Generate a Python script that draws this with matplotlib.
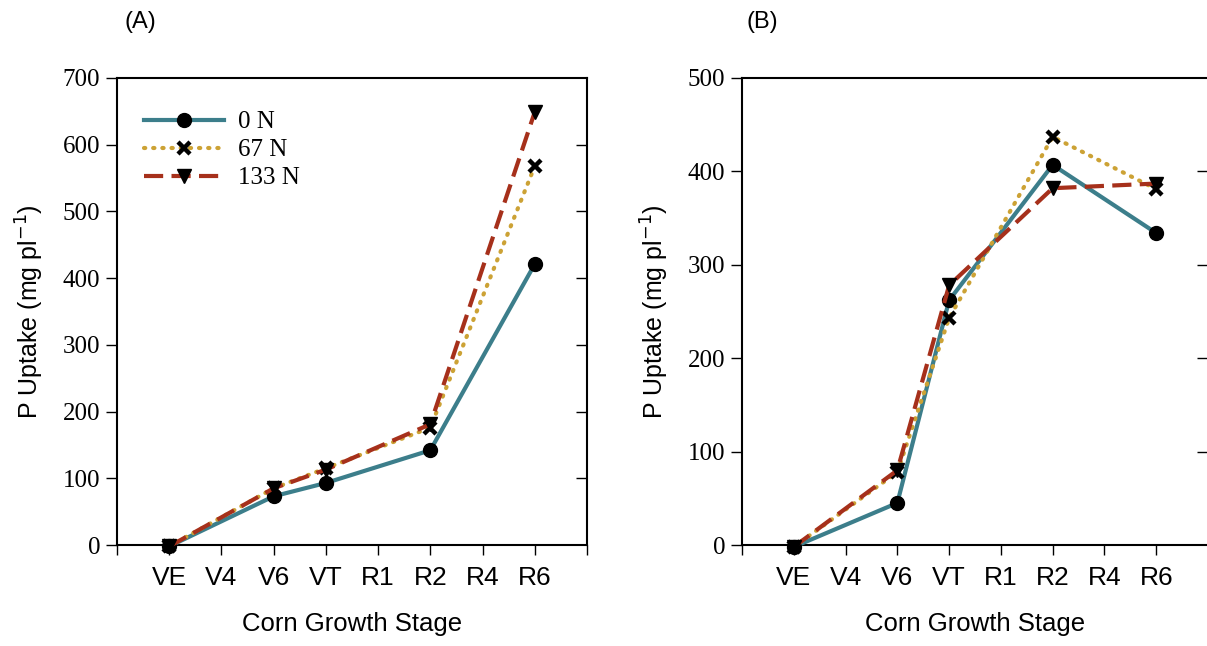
import numpy as np
import matplotlib.pyplot as plt

# growth stages on the x axis
stages = ["VE", "V4", "V6", "VT", "R1", "R2", "R4", "R6"]
tick_pos = [-1, 0, 1, 2, 3, 4, 5, 6, 7, 8]
tick_lab = [""] + stages + [""]

# stages that were sampled
sampled = ["VE", "V6", "VT", "R2", "R6"]

# (A) P uptake, mg per plant
a_0n = [-2, 73, 93, 142, 421]
a_67n = [-2, 85, 115, 176, 568]
a_133n = [-2, 85, 113, 181, 649]

# (B) P uptake, mg per plant
b_0n = [-2, 45, 262, 407, 334]
b_67n = [-2, 78, 243, 437, 381]
b_133n = [-2, 80, 278, 382, 387]

series_names = ["0 N", "67 N", "133 N"]
colors = ["#3c7e8b", "#cca235", "#a6301b"]

x = [stages.index(s) for s in sampled]

fig = plt.figure(figsize=(12.07, 6.46), dpi=100)
axA = fig.add_axes([117 / 1207, 101 / 646, 470 / 1207, 467 / 646])
axB = fig.add_axes([742 / 1207, 101 / 646, 466 / 1207, 467 / 646])


def draw(ax, ys, ymax):
    y0, y1, y2 = ys
    ax.plot(x, y0, color=colors[0], lw=3.0, marker="o", ms=10,
            mfc="black", mec="black", label=series_names[0], clip_on=False, zorder=3)
    ax.plot(x, y1, color=colors[1], lw=3.0, linestyle=(0, (0.3, 1.9)),
            dash_capstyle="round", marker="x", ms=9, mew=3.2,
            mfc="black", mec="black", label=series_names[1], clip_on=False, zorder=4)
    ax.plot(x, y2, color=colors[2], lw=3.0, linestyle=(0, (4.6, 2.0)),
            marker="v", ms=10, mfc="black", mec="black",
            label=series_names[2], clip_on=False, zorder=5)

    ax.set_xlim(-1, 8)
    ax.set_ylim(0, ymax)
    ax.set_xticks(tick_pos)
    ax.set_xticklabels(tick_lab, fontsize=19, family="Liberation Sans")
    ax.set_yticks(np.arange(0, ymax + 1, 100))
    ax.set_yticklabels([str(v) for v in np.arange(0, ymax + 1, 100)],
                       fontsize=18, family="Liberation Serif")
    ax.tick_params(axis="x", direction="out", length=7, width=1.0, pad=8)
    ax.tick_params(axis="y", direction="out", length=8, width=1.0, pad=4)
    ax.tick_params(axis="y", which="both", right=True, labelright=False)
    for s in ax.spines.values():
        s.set_linewidth(1.5)
    ax.set_xlabel("Corn Growth Stage", fontsize=18.5, family="Liberation Sans", labelpad=16)
    ax.set_ylabel("P Uptake (mg pl$^{-1}$)", fontsize=18, family="Liberation Sans", labelpad=12)


draw(axA, (a_0n, a_67n, a_133n), 700)
draw(axB, (b_0n, b_67n, b_133n), 500)

# right-side ticks point inward
for ax in (axA, axB):
    for t in ax.yaxis.get_major_ticks():
        t.tick2line.set_marker(0)
        t.tick2line.set_markersize(8)
    ax.yaxis.get_major_ticks()[0].tick2line.set_visible(False)
    ax.yaxis.get_major_ticks()[-1].tick2line.set_visible(False)

leg = axA.legend(loc="upper left", bbox_to_anchor=(0.01, 0.978), frameon=False,
                 prop={"family": "Liberation Serif", "size": 18},
                 handlelength=3.2, handletextpad=0.55, labelspacing=0.22)

fig.text(140 / 1207, 1 - 22 / 646, "(A)", fontsize=17, family="Liberation Sans",
         ha="center", va="center")
fig.text(762 / 1207, 1 - 22 / 646, "(B)", fontsize=17, family="Liberation Sans",
         ha="center", va="center")

fig.savefig("out.png", dpi=100)
